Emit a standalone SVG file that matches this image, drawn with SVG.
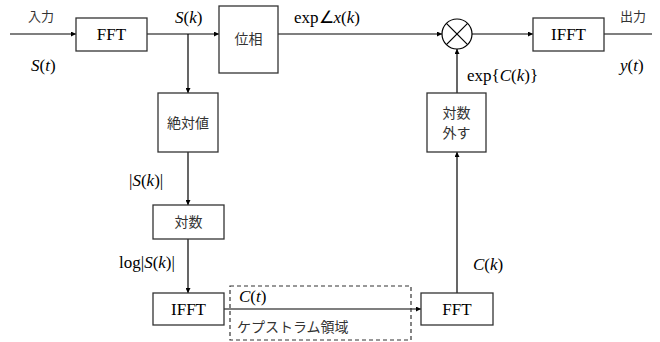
<svg xmlns="http://www.w3.org/2000/svg" width="660" height="342" viewBox="0 0 660 342">
<defs>
<marker id="ah" viewBox="0 0 8 8" refX="8" refY="4" markerWidth="5" markerHeight="5" orient="auto" markerUnits="userSpaceOnUse"><path d="M0,0 L8,4 L0,8 Z" fill="#000"/></marker>
</defs>
<style>
.box{fill:#fff;stroke:#333;stroke-width:1.3}
.ln{fill:none;stroke:#000;stroke-width:1.2}
.arr{fill:none;stroke:#000;stroke-width:1.2;marker-end:url(#ah)}
.en{font-family:"Liberation Serif",serif;font-size:17px;fill:#000}
.it{font-style:italic}
.jp{font-family:"Noto Sans CJK JP","Noto Sans",sans-serif;font-size:14px;fill:#333}
.jl{font-family:"Noto Sans CJK JP","Noto Sans",sans-serif;font-size:13px;fill:#333}
</style>
<rect width="660" height="342" fill="#fff"/>
<g id="connectors">
<line class="arr" x1="10" y1="34" x2="76" y2="34"/>
<line class="arr" x1="147" y1="34" x2="219" y2="34"/>
<line class="arr" x1="188" y1="34" x2="188" y2="93"/>
<line class="arr" x1="188" y1="152" x2="188" y2="205"/>
<line class="arr" x1="188" y1="239" x2="188" y2="293"/>
<line class="arr" x1="224" y1="309" x2="421" y2="309"/>
<line class="arr" x1="457" y1="293" x2="457" y2="152"/>
<line class="arr" x1="457" y1="93" x2="457" y2="49"/>
<line class="arr" x1="278" y1="34" x2="442" y2="34"/>
<line class="arr" x1="472" y1="34" x2="533" y2="34"/>
<line class="ln" x1="604" y1="34" x2="652" y2="34"/>
</g>
<g id="cepstrum">
<rect x="230" y="286" width="181" height="54" fill="none" stroke="#333" stroke-width="1.2" stroke-dasharray="4,3"/>
<text class="jp" x="237" y="332">ケプストラム領域</text>
</g>
<g id="fft1"><rect class="box" x="76" y="18" width="71" height="33"/><text class="en" x="111.5" y="40" text-anchor="middle">FFT</text></g>
<g id="phase"><rect class="box" x="219" y="6" width="59" height="67"/><text class="jp" x="248.5" y="44" text-anchor="middle" font-size="15">位相</text></g>
<g id="abs"><rect class="box" x="158" y="93" width="60" height="59"/><text class="jp" x="188" y="128" text-anchor="middle">絶対値</text></g>
<g id="log"><rect class="box" x="153" y="205" width="71" height="34"/><text class="jp" x="188.5" y="227" text-anchor="middle">対数</text></g>
<g id="ifft1"><rect class="box" x="153" y="293" width="71" height="32"/><text class="en" x="188.5" y="315" text-anchor="middle">IFFT</text></g>
<g id="fft2"><rect class="box" x="421" y="293" width="72" height="32"/><text class="en" x="457" y="315" text-anchor="middle">FFT</text></g>
<g id="exp"><rect class="box" x="427" y="93" width="59" height="59"/><text class="jp" x="456.5" y="118" text-anchor="middle">対数</text><text class="jp" x="456.5" y="138" text-anchor="middle">外す</text></g>
<g id="mult"><circle cx="457" cy="34" r="15" fill="#fff" stroke="#000" stroke-width="1.2"/><line class="ln" x1="446.4" y1="23.4" x2="467.6" y2="44.6"/><line class="ln" x1="467.6" y1="23.4" x2="446.4" y2="44.6"/></g>
<g id="ifft2"><rect class="box" x="533" y="18" width="71" height="33"/><text class="en" x="568.5" y="40" text-anchor="middle">IFFT</text></g>
<g id="labels">
<text class="jl" x="28" y="21">入力</text>
<text class="en" x="31" y="71"><tspan class="it">S</tspan>(<tspan class="it">t</tspan>)</text>
<text class="en" x="175" y="23"><tspan class="it">S</tspan>(<tspan class="it">k</tspan>)</text>
<text class="en" x="294" y="23">exp∠<tspan class="it">x</tspan>(<tspan class="it">k</tspan>)</text>
<text class="jl" x="620" y="21">出力</text>
<text class="en" x="620" y="71"><tspan class="it">y</tspan>(<tspan class="it">t</tspan>)</text>
<text class="en" x="467" y="81">exp{<tspan class="it">C</tspan>(<tspan class="it">k</tspan>)}</text>
<text class="en" x="129" y="186">|<tspan class="it">S</tspan>(<tspan class="it">k</tspan>)|</text>
<text class="en" x="119" y="268">log|<tspan class="it">S</tspan>(<tspan class="it">k</tspan>)|</text>
<text class="en" x="473" y="270"><tspan class="it">C</tspan>(<tspan class="it">k</tspan>)</text>
<text class="en" x="239" y="302"><tspan class="it">C</tspan>(<tspan class="it">t</tspan>)</text>
</g>
</svg>
